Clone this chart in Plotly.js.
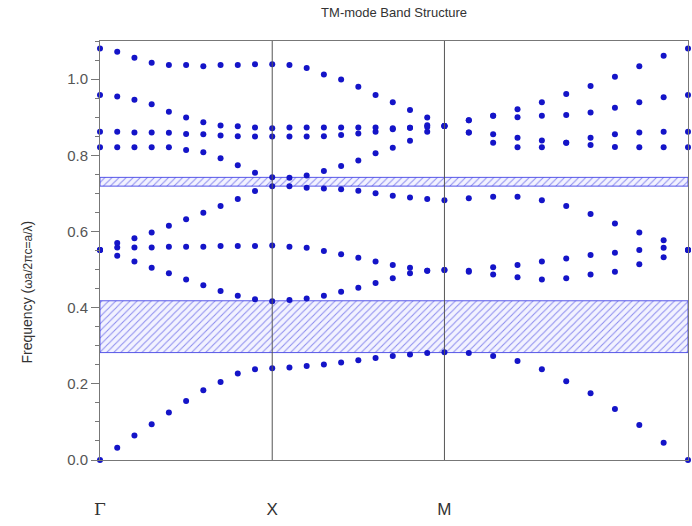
<!DOCTYPE html>
<html>
<head>
<meta charset="utf-8">
<script src="https://cdn.plot.ly/plotly-3.0.1.min.js"></script>
<style>html,body{margin:0;padding:0;background:#fff;}#chart{width:692px;height:526px;}</style>
</head>
<body>
<div id="chart"></div>
<script>
// k-path coordinates (Γ-X: 0..1, X-M: 1..2, M-Γ: 2..2+√2)
const kpath = [0,0.1,0.2,0.3,0.4,0.5,0.6,0.7,0.8,0.9,1.0,
  1.1,1.2,1.3,1.4,1.5,1.6,1.7,1.8,1.9,2.0,
  2.1414,2.2828,2.4243,2.5657,2.7071,2.8485,2.9899,3.1314,3.2728,3.4142];
const tickPos = [0, 1, 2, 3.4142];
const tickText = ['Γ', 'X', 'M', 'Γ'];

const band1 = [0,0.032,0.064,0.094,0.125,0.155,0.183,0.205,0.227,0.238,0.241,
  0.243,0.247,0.251,0.256,0.262,0.268,0.273,0.277,0.281,0.283,
  0.281,0.273,0.260,0.238,0.207,0.175,0.134,0.092,0.045,0];
const band2 = [0.551,0.536,0.521,0.505,0.490,0.474,0.459,0.444,0.431,0.422,0.417,
  0.420,0.424,0.431,0.442,0.452,0.465,0.477,0.490,0.497,0.499,
  0.494,0.487,0.480,0.474,0.477,0.487,0.494,0.514,0.532,0.551];
const band3 = [0.551,0.558,0.558,0.558,0.560,0.560,0.560,0.562,0.562,0.562,0.563,
  0.560,0.557,0.549,0.540,0.531,0.521,0.512,0.505,0.497,0.499,
  0.497,0.506,0.512,0.521,0.529,0.538,0.544,0.551,0.557,0.551];
const band4 = [0.551,0.570,0.582,0.597,0.615,0.632,0.649,0.667,0.685,0.706,0.719,
  0.719,0.715,0.713,0.711,0.707,0.700,0.694,0.689,0.685,0.682,
  0.687,0.691,0.691,0.682,0.667,0.646,0.621,0.597,0.577,0.551];
const band5 = [0.821,0.821,0.821,0.821,0.821,0.814,0.808,0.792,0.774,0.754,0.742,
  0.741,0.747,0.759,0.772,0.786,0.805,0.820,0.838,0.862,0.877,
  0.860,0.833,0.821,0.821,0.833,0.827,0.822,0.821,0.821,0.821];
const band6 = [0.862,0.862,0.860,0.860,0.859,0.856,0.855,0.852,0.850,0.849,0.849,
  0.849,0.849,0.850,0.853,0.857,0.862,0.868,0.872,0.874,0.877,
  0.860,0.855,0.846,0.839,0.833,0.846,0.855,0.860,0.862,0.862];
const band7 = [0.958,0.954,0.946,0.934,0.914,0.899,0.887,0.878,0.876,0.873,0.871,
  0.873,0.873,0.873,0.873,0.873,0.873,0.871,0.872,0.879,0.877,
  0.892,0.904,0.900,0.904,0.906,0.912,0.925,0.939,0.952,0.958];
const band8 = [1.080,1.072,1.056,1.043,1.037,1.037,1.034,1.037,1.037,1.039,1.039,
  1.037,1.029,1.012,0.999,0.980,0.958,0.939,0.919,0.899,0.877,
  0.892,0.904,0.921,0.939,0.961,0.982,1.006,1.034,1.061,1.080];

// photonic band gaps [bottom, top]
const gap1 = [0.282, 0.418];
const gap2 = [0.719, 0.742];

const bands = [band1, band2, band3, band4, band5, band6, band7, band8];
const kMin = kpath[0], kMax = kpath[kpath.length - 1];

const traces = [];
[gap1, gap2].forEach(g => {
  traces.push({
    type: 'scatter', mode: 'lines',
    x: [kMin, kMax, kMax, kMin, kMin],
    y: [g[0], g[0], g[1], g[1], g[0]],
    fill: 'toself',
    fillcolor: 'rgba(235,235,255,1)',
    fillpattern: {shape: '/', fgcolor: 'rgba(120,120,235,0.85)', bgcolor: 'rgba(242,242,255,1)', size: 5, solidity: 0.2},
    line: {color: 'rgba(70,70,230,0.9)', width: 1},
    hoverinfo: 'skip', showlegend: false, cliponaxis: false
  });
});
bands.forEach(b => {
  traces.push({
    type: 'scatter', mode: 'markers',
    x: kpath, y: b,
    marker: {color: '#1414c8', size: 6},
    showlegend: false, cliponaxis: false
  });
});

const sans = 'Liberation Sans, Arial, sans-serif';
const tickTextStyled = tickText.map(t => t === 'Γ'
  ? '<span style="font-family:\'DejaVu Serif\', serif">' + t + '</span>' : t);

const layout = {
  width: 692, height: 526,
  margin: {l: 100, r: 4, t: 41, b: 66},
  paper_bgcolor: '#fff', plot_bgcolor: '#fff',
  showlegend: false,
  title: {text: 'TM-mode Band Structure', x: 0.5695, xanchor: 'center', y: 0.977, yanchor: 'middle',
    font: {family: sans, size: 13, color: '#333'}},
  xaxis: {
    range: [kMin, kMax], tickmode: 'array', tickvals: tickPos, ticktext: tickTextStyled,
    ticks: '', showgrid: false, zeroline: false,
    showline: true, linecolor: '#777', linewidth: 1, mirror: true,
    ticklabelstandoff: 34,
    tickfont: {family: sans, size: 17, color: '#333'}
  },
  yaxis: {
    range: [0, 1.1], tickmode: 'array', tickvals: [0, 0.2, 0.4, 0.6, 0.8, 1.0],
    ticktext: ['0.0', '0.2', '0.4', '0.6', '0.8', '1.0'],
    ticks: 'outside', ticklen: 8, tickcolor: '#777',
    minor: {dtick: 0.05, ticks: 'outside', ticklen: 4, tickcolor: '#777'},
    showgrid: false, zeroline: false,
    showline: true, linecolor: '#777', linewidth: 1, mirror: true,
    tickfont: {family: sans, size: 15, color: '#555'}
  },
  annotations: [{
    text: 'Frequency (<span style="font-size:12px">ωa/2πc=a/λ</span>)',
    xref: 'paper', yref: 'paper', x: -0.124, y: 0.40, xanchor: 'center', yanchor: 'middle',
    textangle: -90, showarrow: false,
    font: {family: sans, size: 14, color: '#333'}
  }],
  shapes: [1, 2].map(i => ({
    type: 'line', xref: 'x', yref: 'paper', x0: tickPos[i], x1: tickPos[i], y0: 0, y1: 1,
    line: {color: '#555', width: 1}, layer: 'above'
  }))
};

Plotly.newPlot('chart', traces, layout, {displayModeBar: false, staticPlot: true});
</script>
</body>
</html>
